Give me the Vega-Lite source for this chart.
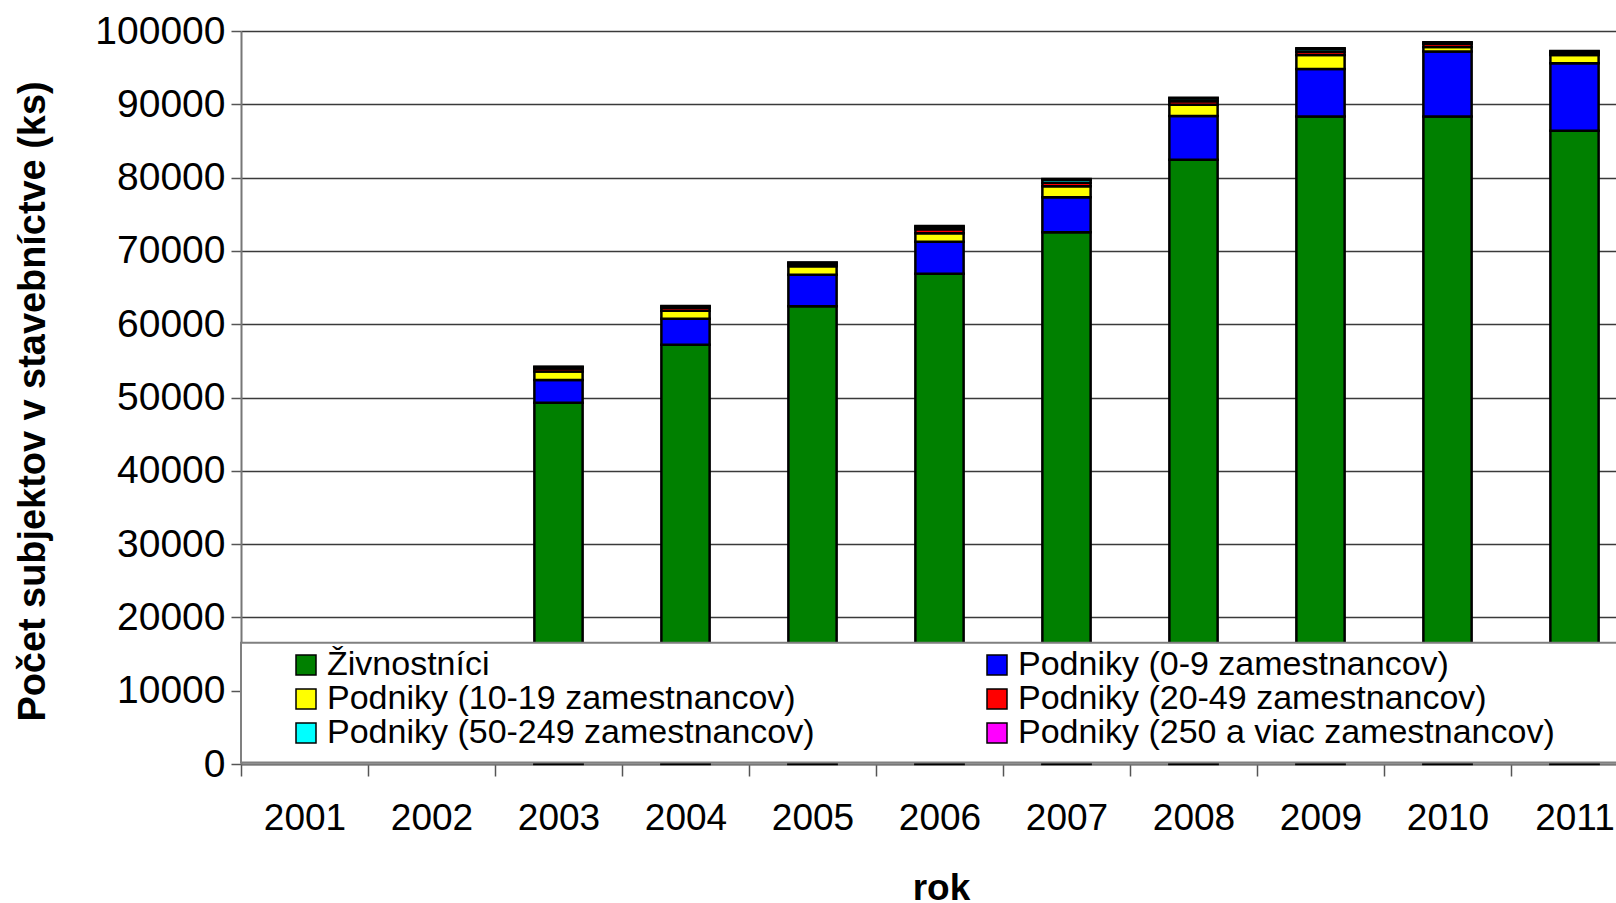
{
  "$schema": "https://vega.github.io/schema/vega-lite/v6.json",
  "width": 1375,
  "height": 733,
  "autosize": {"type": "none"},
  "padding": {"left": 241, "top": 31, "right": 0, "bottom": 139},
  "background": "white",
  "config": {"view": {"stroke": null}, "font": "Liberation Sans"},
  "layer": [
    {
      "data": {
        "values": [
          {"rok": "2003", "typ": "Živnostníci", "k": 0, "pocet": 49300},
          {"rok": "2003", "typ": "Podniky (0-9 zamestnancov)", "k": 1, "pocet": 3100},
          {"rok": "2003", "typ": "Podniky (10-19 zamestnancov)", "k": 2, "pocet": 1150},
          {"rok": "2003", "typ": "Podniky (20-49 zamestnancov)", "k": 3, "pocet": 400},
          {"rok": "2003", "typ": "Podniky (50-249 zamestnancov)", "k": 4, "pocet": 200},
          {"rok": "2003", "typ": "Podniky (250 a viac zamestnancov)", "k": 5, "pocet": 50},
          {"rok": "2004", "typ": "Živnostníci", "k": 0, "pocet": 57200},
          {"rok": "2004", "typ": "Podniky (0-9 zamestnancov)", "k": 1, "pocet": 3550},
          {"rok": "2004", "typ": "Podniky (10-19 zamestnancov)", "k": 2, "pocet": 1090},
          {"rok": "2004", "typ": "Podniky (20-49 zamestnancov)", "k": 3, "pocet": 400},
          {"rok": "2004", "typ": "Podniky (50-249 zamestnancov)", "k": 4, "pocet": 180},
          {"rok": "2004", "typ": "Podniky (250 a viac zamestnancov)", "k": 5, "pocet": 80},
          {"rok": "2005", "typ": "Živnostníci", "k": 0, "pocet": 62460},
          {"rok": "2005", "typ": "Podniky (0-9 zamestnancov)", "k": 1, "pocet": 4300},
          {"rok": "2005", "typ": "Podniky (10-19 zamestnancov)", "k": 2, "pocet": 1160},
          {"rok": "2005", "typ": "Podniky (20-49 zamestnancov)", "k": 3, "pocet": 300},
          {"rok": "2005", "typ": "Podniky (50-249 zamestnancov)", "k": 4, "pocet": 150},
          {"rok": "2005", "typ": "Podniky (250 a viac zamestnancov)", "k": 5, "pocet": 50},
          {"rok": "2006", "typ": "Živnostníci", "k": 0, "pocet": 66870},
          {"rok": "2006", "typ": "Podniky (0-9 zamestnancov)", "k": 1, "pocet": 4370},
          {"rok": "2006", "typ": "Podniky (10-19 zamestnancov)", "k": 2, "pocet": 1160},
          {"rok": "2006", "typ": "Podniky (20-49 zamestnancov)", "k": 3, "pocet": 550},
          {"rok": "2006", "typ": "Podniky (50-249 zamestnancov)", "k": 4, "pocet": 350},
          {"rok": "2006", "typ": "Podniky (250 a viac zamestnancov)", "k": 5, "pocet": 100},
          {"rok": "2007", "typ": "Živnostníci", "k": 0, "pocet": 72540},
          {"rok": "2007", "typ": "Podniky (0-9 zamestnancov)", "k": 1, "pocet": 4780},
          {"rok": "2007", "typ": "Podniky (10-19 zamestnancov)", "k": 2, "pocet": 1500},
          {"rok": "2007", "typ": "Podniky (20-49 zamestnancov)", "k": 3, "pocet": 480},
          {"rok": "2007", "typ": "Podniky (50-249 zamestnancov)", "k": 4, "pocet": 410},
          {"rok": "2007", "typ": "Podniky (250 a viac zamestnancov)", "k": 5, "pocet": 100},
          {"rok": "2008", "typ": "Živnostníci", "k": 0, "pocet": 82420},
          {"rok": "2008", "typ": "Podniky (0-9 zamestnancov)", "k": 1, "pocet": 5980},
          {"rok": "2008", "typ": "Podniky (10-19 zamestnancov)", "k": 2, "pocet": 1530},
          {"rok": "2008", "typ": "Podniky (20-49 zamestnancov)", "k": 3, "pocet": 500},
          {"rok": "2008", "typ": "Podniky (50-249 zamestnancov)", "k": 4, "pocet": 370},
          {"rok": "2008", "typ": "Podniky (250 a viac zamestnancov)", "k": 5, "pocet": 100},
          {"rok": "2009", "typ": "Živnostníci", "k": 0, "pocet": 88330},
          {"rok": "2009", "typ": "Podniky (0-9 zamestnancov)", "k": 1, "pocet": 6480},
          {"rok": "2009", "typ": "Podniky (10-19 zamestnancov)", "k": 2, "pocet": 1910},
          {"rok": "2009", "typ": "Podniky (20-49 zamestnancov)", "k": 3, "pocet": 450},
          {"rok": "2009", "typ": "Podniky (50-249 zamestnancov)", "k": 4, "pocet": 370},
          {"rok": "2009", "typ": "Podniky (250 a viac zamestnancov)", "k": 5, "pocet": 100},
          {"rok": "2010", "typ": "Živnostníci", "k": 0, "pocet": 88330},
          {"rok": "2010", "typ": "Podniky (0-9 zamestnancov)", "k": 1, "pocet": 8870},
          {"rok": "2010", "typ": "Podniky (10-19 zamestnancov)", "k": 2, "pocet": 620},
          {"rok": "2010", "typ": "Podniky (20-49 zamestnancov)", "k": 3, "pocet": 450},
          {"rok": "2010", "typ": "Podniky (50-249 zamestnancov)", "k": 4, "pocet": 120},
          {"rok": "2010", "typ": "Podniky (250 a viac zamestnancov)", "k": 5, "pocet": 70},
          {"rok": "2011", "typ": "Živnostníci", "k": 0, "pocet": 86380},
          {"rok": "2011", "typ": "Podniky (0-9 zamestnancov)", "k": 1, "pocet": 9210},
          {"rok": "2011", "typ": "Podniky (10-19 zamestnancov)", "k": 2, "pocet": 1130},
          {"rok": "2011", "typ": "Podniky (20-49 zamestnancov)", "k": 3, "pocet": 300},
          {"rok": "2011", "typ": "Podniky (50-249 zamestnancov)", "k": 4, "pocet": 170},
          {"rok": "2011", "typ": "Podniky (250 a viac zamestnancov)", "k": 5, "pocet": 80}
        ]
      },
      "mark": {"type": "bar", "stroke": "black", "strokeWidth": 2.5, "width": {"band": 0.38}},
      "encoding": {
        "x": {
          "field": "rok",
          "type": "ordinal",
          "scale": {
            "domain": ["2001", "2002", "2003", "2004", "2005", "2006", "2007", "2008", "2009", "2010", "2011"],
            "range": [0, 1397],
            "paddingInner": 0,
            "paddingOuter": 0
          },
          "axis": {
            "title": "rok",
            "titleFontSize": 37,
            "titleFontWeight": "bold",
            "titleColor": "black",
            "titleX": 700,
            "titleY": 135,
            "titleAlign": "center",
            "titleBaseline": "alphabetic",
            "labelAngle": 0,
            "labelFontSize": 37,
            "labelColor": "black",
            "labelPadding": 24,
            "tickBand": "extent",
            "tickSize": 12,
            "tickColor": "#555555",
            "tickWidth": 1.5,
            "domainColor": "#777777",
            "domainWidth": 2,
            "grid": false
          }
        },
        "y": {
          "field": "pocet",
          "type": "quantitative",
          "stack": "zero",
          "scale": {"domain": [0, 100000], "nice": false},
          "axis": {
            "title": "Počet subjektov v stavebníctve (ks)",
            "titleFontSize": 37.9,
            "titleFontWeight": "bold",
            "titleColor": "black",
            "titleAngle": -90,
            "titleX": -197,
            "titleY": 370,
            "titleAlign": "center",
            "titleBaseline": "alphabetic",
            "values": [0, 10000, 20000, 30000, 40000, 50000, 60000, 70000, 80000, 90000, 100000],
            "format": "d",
            "labelFontSize": 39,
            "labelColor": "black",
            "labelPadding": 6,
            "tickSize": 10,
            "tickColor": "#555555",
            "tickWidth": 1.5,
            "domainColor": "#777777",
            "domainWidth": 2,
            "grid": true,
            "gridColor": "#3a3a3a",
            "gridWidth": 1.5
          }
        },
        "color": {
          "field": "typ",
          "type": "nominal",
          "scale": {
            "domain": ["Živnostníci", "Podniky (0-9 zamestnancov)", "Podniky (10-19 zamestnancov)", "Podniky (20-49 zamestnancov)", "Podniky (50-249 zamestnancov)", "Podniky (250 a viac zamestnancov)"],
            "range": ["#008000", "#0000FF", "#FFFF00", "#FF0000", "#00FFFF", "#FF00FF"]
          },
          "legend": {
            "title": null,
            "orient": "none",
            "direction": "horizontal",
            "legendX": 48,
            "legendY": 617,
            "columns": 2,
            "columnPadding": 165,
            "rowPadding": 0,
            "padding": 0,
            "symbolType": "square",
            "symbolSize": 400,
            "symbolStrokeColor": "black",
            "symbolStrokeWidth": 1.5,
            "symbolOpacity": 1,
            "labelFontSize": 34,
            "labelColor": "black",
            "labelOffset": 4,
            "labelLimit": 0
          }
        },
        "order": {"field": "k", "type": "quantitative"}
      }
    },
    {
      "data": {"values": [{}]},
      "mark": {"type": "rect", "fill": "white", "stroke": "#808080", "strokeWidth": 2},
      "encoding": {
        "x": {"datum": 0, "type": "quantitative", "scale": {"domain": [0, 11], "range": [0, 1397]}, "axis": null},
        "x2": {"datum": 11},
        "y": {"datum": 200, "type": "quantitative", "axis": null},
        "y2": {"datum": 16550}
      }
    }
  ],
  "resolve": {"scale": {"x": "independent"}, "axis": {"y": "independent"}}
}
